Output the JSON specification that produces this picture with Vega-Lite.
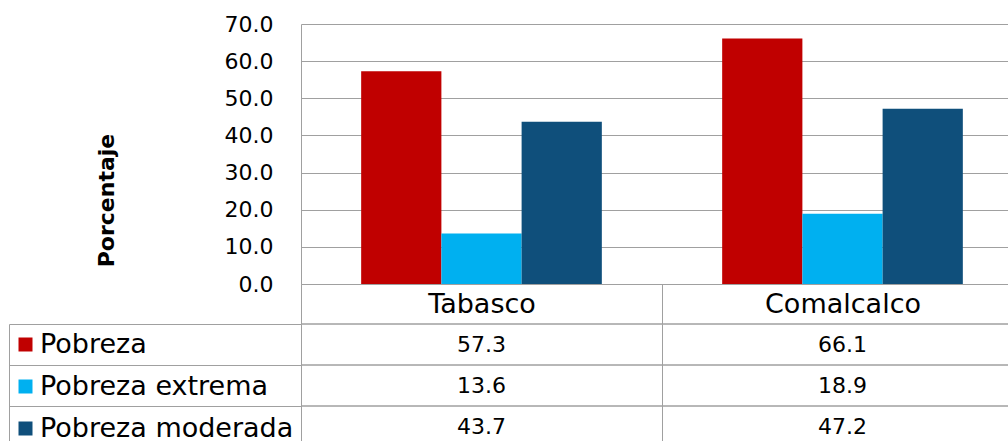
{
  "$schema": "https://vega.github.io/schema/vega-lite/v6.json",
  "background": "white",
  "padding": {"left": 8, "top": 13, "right": 0, "bottom": 0},
  "bounds": "flush",
  "spacing": 40,
  "datasets": {
    "pobreza": [
      {"region": "Tabasco", "serie": "Pobreza", "valor": 57.3},
      {"region": "Tabasco", "serie": "Pobreza extrema", "valor": 13.6},
      {"region": "Tabasco", "serie": "Pobreza moderada", "valor": 43.7},
      {"region": "Comalcalco", "serie": "Pobreza", "valor": 66.1},
      {"region": "Comalcalco", "serie": "Pobreza extrema", "valor": 18.9},
      {"region": "Comalcalco", "serie": "Pobreza moderada", "valor": 47.2}
    ]
  },
  "config": {
    "view": {"stroke": null},
    "font": "DejaVu Sans"
  },
  "vconcat": [
    {
      "width": 722,
      "height": 260,
      "data": {"name": "pobreza"},
      "mark": {"type": "bar"},
      "encoding": {
        "x": {
          "field": "region", "type": "nominal", "sort": ["Tabasco", "Comalcalco"],
          "scale": {"paddingInner": 0, "paddingOuter": 0},
          "axis": {
            "title": null, "orient": "bottom", "labelAngle": 0,
            "labelFontSize": 27, "labelFont": "DejaVu Sans", "labelColor": "black",
            "labelBaseline": "middle", "labelPadding": -20,
            "ticks": true, "tickBand": "extent", "tickSize": 40, "tickColor": "#a0a0a0",
            "domainColor": "#a0a0a0", "grid": false
          }
        },
        "xOffset": {
          "field": "serie", "type": "nominal",
          "sort": ["Pobreza", "Pobreza extrema", "Pobreza moderada"],
          "scale": {"paddingInner": 0, "paddingOuter": 0.75}
        },
        "y": {
          "field": "valor", "type": "quantitative",
          "scale": {"domain": [0, 70]},
          "axis": {
            "values": [0, 10, 20, 30, 40, 50, 60, 70], "format": ".1f",
            "title": "Porcentaje", "titleFont": "DejaVu Sans", "titleFontSize": 22,
            "titleFontWeight": "bold", "titleColor": "black", "titleX": -183, "titleY": 176,
            "labelFontSize": 22, "labelFont": "DejaVu Sans", "labelColor": "black",
            "labelPadding": 28, "ticks": false,
            "domainColor": "#a0a0a0", "gridColor": "#a0a0a0"
          }
        },
        "color": {
          "field": "serie", "type": "nominal",
          "scale": {
            "domain": ["Pobreza", "Pobreza extrema", "Pobreza moderada"],
            "range": ["#C00000", "#00B0F0", "#0F4F7B"]
          },
          "legend": {
            "orient": "none", "legendX": -289, "legendY": 307, "title": null,
            "direction": "vertical",
            "symbolType": "square", "symbolSize": 196, "symbolStrokeWidth": 0,
            "symbolOpacity": 1,
            "labelFontSize": 27, "labelFont": "DejaVu Sans", "labelColor": "black",
            "labelLimit": 0,
            "rowPadding": 14, "labelOffset": 1, "padding": 0
          }
        }
      }
    },
    {
      "width": 722,
      "height": 123,
      "data": {"name": "pobreza"},
      "layer": [
        {
          "mark": {"type": "text", "fontSize": 22, "font": "DejaVu Sans", "color": "black"},
          "encoding": {
            "x": {
              "field": "region", "type": "nominal", "sort": ["Tabasco", "Comalcalco"],
              "scale": {"paddingInner": 0, "paddingOuter": 0},
              "axis": {
                "orient": "top", "title": null, "labels": false, "ticks": false,
                "domain": false, "grid": true, "tickBand": "extent", "gridColor": "#a0a0a0"
              }
            },
            "y": {
              "field": "serie", "type": "nominal",
              "sort": ["Pobreza", "Pobreza extrema", "Pobreza moderada"],
              "scale": {"paddingInner": 0, "paddingOuter": 0},
              "axis": {
                "title": null, "labels": false, "domain": false, "grid": false,
                "ticks": true, "tickBand": "extent", "tickSize": 292, "tickColor": "#a0a0a0"
              }
            },
            "text": {"field": "valor", "type": "quantitative", "format": ".1f"}
          }
        },
        {
          "mark": {"type": "rule", "color": "#a0a0a0"},
          "encoding": {
            "y": {
              "field": "serie", "type": "nominal",
              "sort": ["Pobreza", "Pobreza extrema", "Pobreza moderada"],
              "bandPosition": 0,
              "axis": {
                "orient": "left", "offset": 292, "title": null, "labels": false,
                "ticks": false, "grid": false, "domain": true, "domainColor": "#a0a0a0"
              }
            }
          }
        }
      ],
      "resolve": {"axis": {"y": "independent"}}
    }
  ]
}
